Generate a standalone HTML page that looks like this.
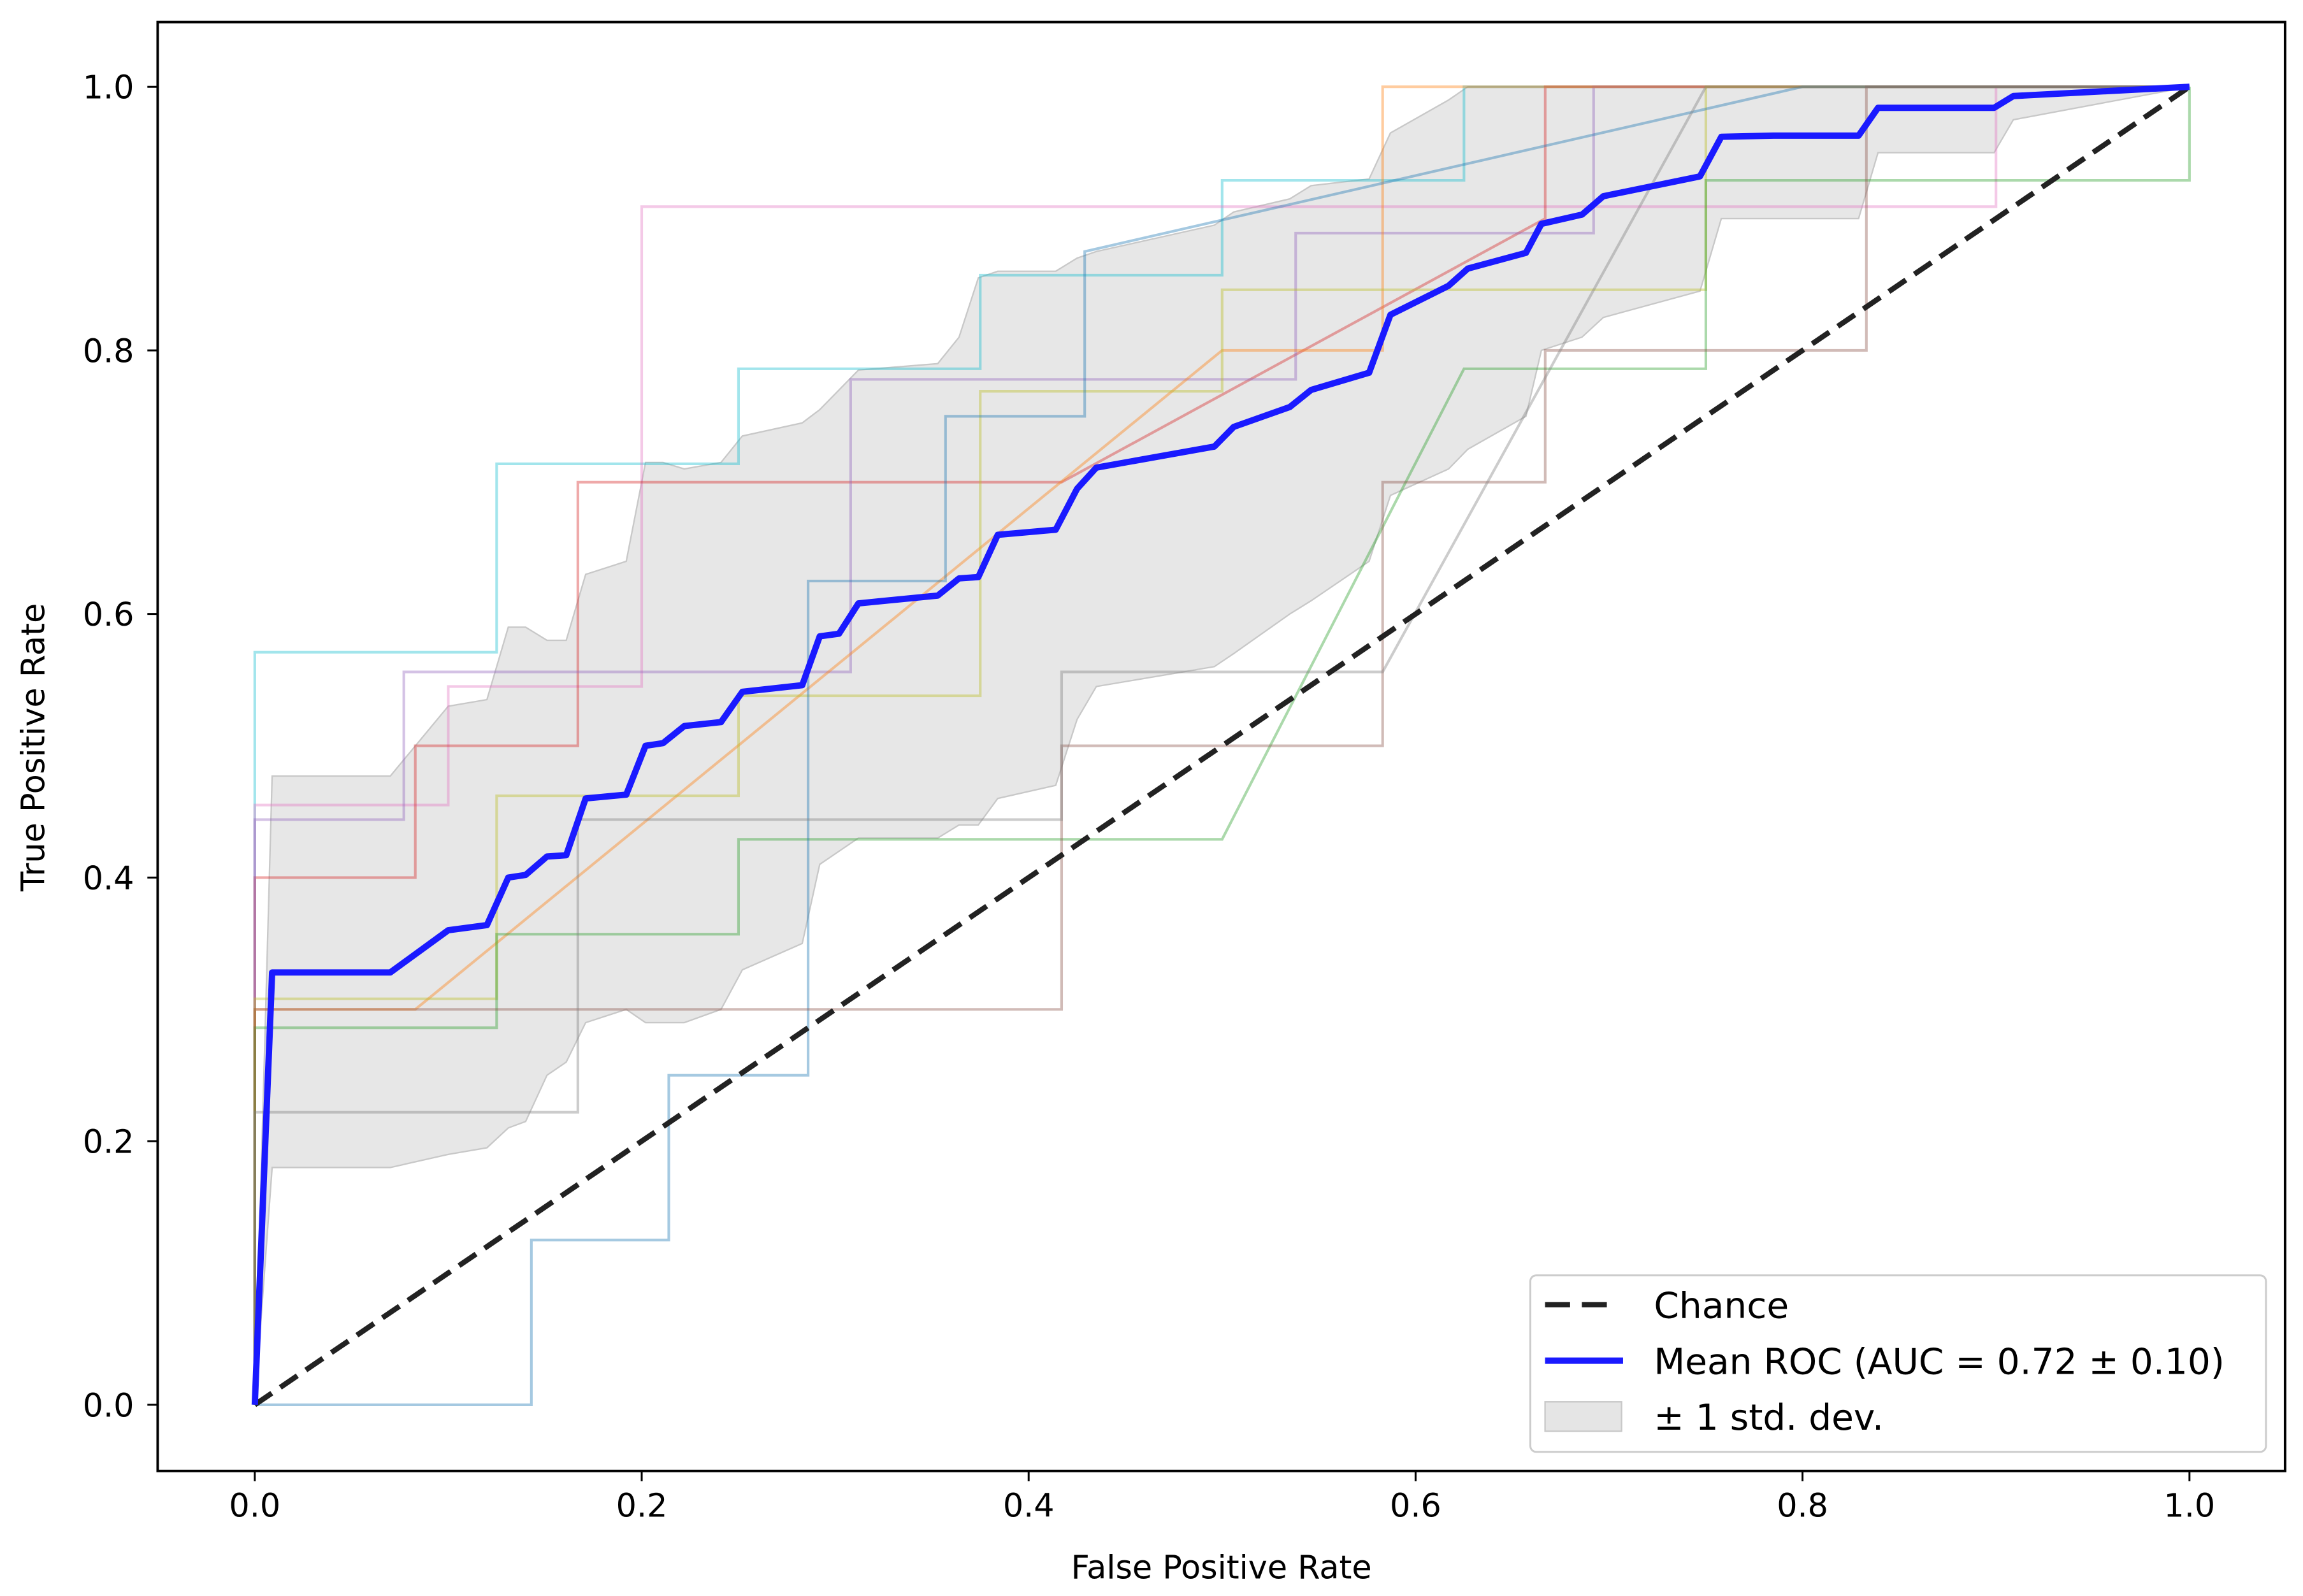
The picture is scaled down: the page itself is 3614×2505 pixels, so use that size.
<!DOCTYPE html>
<html><head><meta charset="utf-8"><style>
html,body{margin:0;padding:0;background:#fff}
svg{display:block;font-family:"DejaVu Sans","Liberation Sans",sans-serif}
</style></head><body>
<svg id="chart" width="3614" height="2505" viewBox="0 0 1565 1085" xmlns="http://www.w3.org/2000/svg">
<rect width="1565" height="1085" fill="#fff"/>
<g id="band"></g><g id="folds"></g><g id="main"></g><g id="axes"></g><g id="legend"></g>
</svg>
<script>
const meanFpr=[0,.009,.07,.10,.12,.131,.14,.151,.161,.171,.192,.202,.211,.222,.241,.252,.283,.292,.302,.312,.353,.364,.374,.384,.414,.425,.435,.496,.506,.535,.546,.576,.587,.617,.627,.657,.665,.686,.697,.747,.758,.785,.829,.839,.899,.909,1];
const meanTpr=[0,.328,.328,.36,.364,.40,.402,.416,.417,.46,.463,.50,.502,.515,.518,.541,.546,.583,.585,.608,.614,.627,.628,.66,.664,.695,.711,.727,.742,.757,.77,.783,.827,.849,.862,.874,.896,.903,.917,.932,.962,.963,.963,.984,.984,.993,1];
const upperTpr=[0,.477,.477,.53,.535,.59,.59,.58,.58,.63,.64,.715,.715,.71,.715,.735,.745,.755,.77,.785,.79,.81,.855,.86,.86,.87,.875,.895,.905,.915,.925,.93,.965,.99,1,1,1,1,1,1,1,1,1,1,1,1,1];
const lowerTpr=[0,.18,.18,.19,.195,.21,.215,.25,.26,.29,.3,.29,.29,.29,.3,.33,.35,.41,.42,.43,.43,.44,.44,.46,.47,.52,.545,.56,.57,.6,.61,.64,.69,.71,.725,.75,.80,.81,.825,.845,.90,.90,.90,.95,.95,.975,1];
const foldColors=['#17becf','#e377c2','#d62728','#9467bd','#ff7f0e','#bcbd22','#2ca02c','#1f77b4','#8c564b','#7f7f7f'];
const foldFpr=[
[0,0,.125,.125,.25,.25,.375,.375,.5,.5,.625,.625,1],
[0,0,.1,.1,.2,.2,.9,.9,1],
[0,0,.083,.083,.167,.167,.417,.667,.667,1],
[0,0,.077,.077,.308,.308,.538,.538,.692,.692,1],
[0,0,.083,.5,.583,.583,1],
[0,0,.125,.125,.25,.25,.375,.375,.5,.5,.75,.75,1],
[0,0,.125,.125,.25,.25,.5,.625,.75,.75,1,1],
[0,.143,.143,.214,.214,.286,.286,.357,.357,.429,.429,.8,1],
[0,0,.417,.417,.583,.583,.667,.667,.833,.833,1],
[0,0,.167,.167,.417,.417,.583,.75,1]];
const foldTpr=[
[0,.571,.571,.714,.714,.786,.786,.857,.857,.929,.929,1,1],
[0,.455,.455,.545,.545,.909,.909,1,1],
[0,.4,.4,.5,.5,.7,.7,.9,1,1],
[0,.444,.444,.556,.556,.778,.778,.889,.889,1,1],
[0,.3,.3,.8,.8,1,1],
[0,.308,.308,.462,.462,.538,.538,.769,.769,.846,.846,1,1],
[0,.286,.286,.357,.357,.429,.429,.786,.786,.929,.929,1],
[0,0,.125,.125,.25,.25,.625,.625,.75,.75,.875,1,1],
[0,.3,.3,.5,.5,.7,.7,.8,.8,1,1],
[0,.222,.222,.444,.444,.556,.556,1,1]];
const xTicks=[0,.2,.4,.6,.8,1.0];
const yTicks=[0,.2,.4,.6,.8,1.0];
const tickLabels=['0.0','0.2','0.4','0.6','0.8','1.0'];

const NS='http://www.w3.org/2000/svg';
const X=v=>173+v*1315, Y=v=>955-v*896;
function mk(tag,attrs,parent){const e=document.createElementNS(NS,tag);for(const k in attrs)e.setAttribute(k,attrs[k]);parent.appendChild(e);return e;}
const pts=(xs,ys)=>xs.map((x,i)=>X(x).toFixed(1)+','+Y(ys[i]).toFixed(1)).join(' ');

const band=document.getElementById('band');
const bp=mk('polygon',{points:pts(meanFpr,upperTpr)+' '+pts(meanFpr.slice().reverse(),lowerTpr.slice().reverse()),fill:'#d3d3d3','fill-opacity':'0.55',stroke:'#c8c8c8','stroke-width':'1'},band);



const folds=document.getElementById('folds');
foldFpr.forEach((f,i)=>{
 const l=mk('polyline',{points:pts(f,foldTpr[i]),fill:'none',stroke:foldColors[i],'stroke-width':'1.8','stroke-opacity':'0.4'},folds);
 
 
});

const main=document.getElementById('main');
const ch=mk('line',{x1:X(0),y1:Y(0),x2:X(1),y2:Y(1),stroke:'#222','stroke-width':'3.6','stroke-dasharray':'14,7'},main);


const ml=mk('polyline',{points:pts(meanFpr,meanTpr),fill:'none',stroke:'#1a1aff','stroke-width':'4.3','stroke-linejoin':'round'},main);



const ax=document.getElementById('axes');
const fr=mk('rect',{x:107,y:15,width:1446,height:985,fill:'none',stroke:'#000','stroke-width':'1.7'},ax);


xTicks.forEach((v,i)=>{
 const t=mk('line',{x1:X(v),y1:1000,x2:X(v),y2:1007,stroke:'#000','stroke-width':'1.3'},ax);
 
 
 const l=mk('text',{x:X(v),y:1031,'font-size':'22','text-anchor':'middle',fill:'#000'},ax);
 l.textContent=tickLabels[i];
 
 
});
yTicks.forEach((v,i)=>{
 const t=mk('line',{x1:100,y1:Y(v),x2:107,y2:Y(v),stroke:'#000','stroke-width':'1.3'},ax);
 
 
 const l=mk('text',{x:91,y:Y(v)+8,'font-size':'22','text-anchor':'end',fill:'#000'},ax);
 l.textContent=tickLabels[i];
 
 
});
const xt=mk('text',{x:830,y:1073,'font-size':'22','text-anchor':'middle',fill:'#000'},ax);
xt.textContent='False Positive Rate';


const yt=mk('text',{x:30,y:508,'font-size':'22','text-anchor':'middle',fill:'#000',transform:'rotate(-90 30 508)'},ax);
yt.textContent='True Positive Rate';



const lg=document.getElementById('legend');
const box=mk('rect',{x:1040,y:867,width:500,height:120,rx:4,fill:'#fff','fill-opacity':'0.85',stroke:'#ccc','stroke-width':'1.3'},lg);


const e1=mk('line',{x1:1050,y1:887,x2:1100,y2:887,stroke:'#222','stroke-width':'3.6','stroke-dasharray':'17,8'},lg);


const e2=mk('line',{x1:1050,y1:925,x2:1103,y2:925,stroke:'#1a1aff','stroke-width':'4.3'},lg);


const e3=mk('rect',{x:1050,y:953,width:52,height:20,fill:'#d3d3d3','fill-opacity':'0.6',stroke:'#c8c8c8'},lg);


[['Chance',896],['Mean ROC (AUC = 0.72 \u00b1 0.10)',934],['\u00b1 1 std. dev.',972]].forEach(([s,y])=>{
 const t=mk('text',{x:1124,y:y,'font-size':'24.5',fill:'#000'},lg);
 t.textContent=s;
 
 
});
</script>
</body></html>
